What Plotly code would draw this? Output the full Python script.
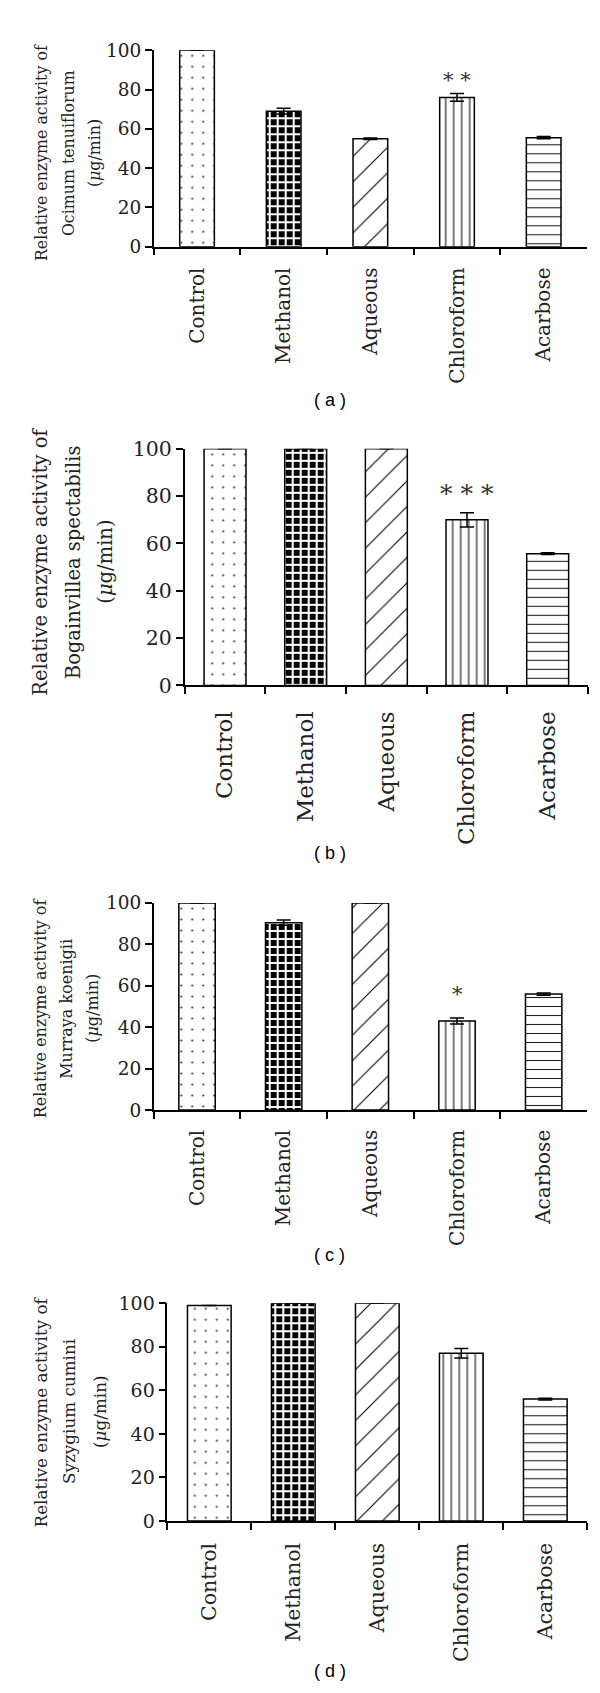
import plotly.graph_objects as go

W, H = 600, 1693

categories = ["Control", "Methanol", "Aqueous", "Chloroform", "Acarbose"]

a_vals = [100, 69, 55, 76, 55.5]
a_err = [None, 1.5, 0.4, 2.0, 0.6]
b_vals = [100, 100, 100, 70, 55.7]
b_err = [None, None, None, 3.0, 0.4]
c_vals = [100, 90.5, 100, 43, 56]
c_err = [None, 1.3, None, 1.5, 0.5]
d_vals = [99, 100, 100, 77, 56]
d_err = [None, None, None, 2.2, 0.4]

titles = [
    ["Relative enzyme activity of", "Ocimum tenuiflorum", "(<i>μ</i>g/min)"],
    ["Relative enzyme activity of", "Bogainvillea spectabilis", "(<i>μ</i>g/min)"],
    ["Relative enzyme activity of", "Murraya koenigii", "(<i>μ</i>g/min)"],
    ["Relative enzyme activity of", "Syzygium cumini", "(<i>μ</i>g/min)"],
]
panel_labels = ["( a )", "( b )", "( c )", "( d )"]
stars = ["* *", "* * *", "*", ""]
star_y = [85, 81, 56, None]

yticks = [0, 20, 40, 60, 80, 100]

# layout geometry (pixels)
panels = [
    dict(x0=145.7, x1=579, y0=230, y100=30.7, bw=0.40, tf=18.5, cf=20, af=15.8,
         tx=[33, 60, 86], ty=135, sf=21, lab_y=385, standoff=11),
    dict(x0=176.7, x1=580, y0=675, y100=435, bw=0.52, tf=20.5, cf=23, af=19.5,
         tx=[32.5, 65, 97.5], ty=550, sf=25, lab_y=845, standoff=15),
    dict(x0=145.7, x1=579, y0=1105.7, y100=895.7, bw=0.42, tf=18.5, cf=20, af=16,
         tx=[32.5, 59, 85], ty=1003, sf=21, lab_y=1253, standoff=10),
    dict(x0=159.3, x1=579.3, y0=1522.5, y100=1301.7, bw=0.52, tf=19, cf=20.5, af=16.8,
         tx=[32.5, 61, 92], ty=1412, sf=21, lab_y=1675, standoff=12),
]
vals = [a_vals, b_vals, c_vals, d_vals]
errs = [a_err, b_err, c_err, d_err]

pat_shape = [".", "+", "/", "|", "-"]
pat_bg = ["white", "black", "white", "white", "white"]
pat_fg = ["#222", "white", "black", "black", "#222"]
pat_size = [11, 8, 18, 8, 9]
pat_sol = [0.025, 0.45, 0.06, 0.13, 0.12]

SERIF = "DejaVu Serif"
fig = go.Figure()
annotations = []

for i, (p, v, e) in enumerate(zip(panels, vals, errs)):
    n = "" if i == 0 else str(i + 1)
    fig.add_trace(go.Bar(
        x=categories, y=v, width=p["bw"],
        xaxis="x" + n, yaxis="y" + n,
        marker=dict(
            color="white",
            line=dict(color="black", width=1.5),
            pattern=dict(shape=pat_shape, bgcolor=pat_bg, fgcolor=pat_fg,
                         size=pat_size, solidity=pat_sol, fillmode="replace"),
        ),
        error_y=dict(type="data", array=e, visible=True, color="black",
                     thickness=1.5, width=7),
        showlegend=False,
    ))
    xd = [p["x0"] / W, p["x1"] / W]
    yd = [(H - p["y0"]) / H, (H - p["y100"]) / H]
    fig.update_layout(**{
        "xaxis" + n: dict(
            domain=xd, anchor="y" + n, type="category",
            categoryorder="array", categoryarray=categories,
            range=[-0.5, 4.5], showline=True, linecolor="black", linewidth=1.5,
            ticks="outside", tickson="boundaries", ticklen=7, tickwidth=1.5,
            tickcolor="black", tickangle=-90, ticklabelstandoff=p["standoff"],
            tickfont=dict(family=SERIF, size=p["cf"], color="#222"),
            showgrid=False, zeroline=False, fixedrange=True,
        ),
        "yaxis" + n: dict(
            domain=yd, anchor="x" + n, range=[0, 100],
            tickvals=yticks, showline=True, linecolor="black", linewidth=1.5,
            ticks="outside", ticklen=7, tickwidth=1.5, tickcolor="black",
            tickfont=dict(family=SERIF, size=p["tf"], color="#222"),
            showgrid=False, zeroline=False, fixedrange=True,
        ),
    })
    for k, line in enumerate(titles[i]):
        annotations.append(dict(
            text=line, x=p["tx"][k] / W, y=(H - p["ty"]) / H,
            xref="paper", yref="paper", xanchor="center", yanchor="middle",
            textangle=-90, showarrow=False,
            font=dict(family=SERIF, size=p["af"], color="#222"),
        ))
    annotations.append(dict(
        text=panel_labels[i], x=321.7 / W, y=(H - p["lab_y"]) / H,
        xref="paper", yref="paper", xanchor="center", yanchor="middle",
        showarrow=False, font=dict(family="Liberation Sans", size=18, color="black"),
    ))
    if stars[i]:
        annotations.append(dict(
            text=stars[i], x="Chloroform", y=star_y[i],
            xref="x" + n, yref="y" + n, xanchor="center", yanchor="middle",
            showarrow=False, font=dict(family=SERIF, size=p["sf"], color="#333"),
        ))

fig.update_layout(
    width=W, height=H, margin=dict(l=0, r=0, t=0, b=0),
    paper_bgcolor="white", plot_bgcolor="white",
    annotations=annotations,
)

fig.write_html("out.html")
